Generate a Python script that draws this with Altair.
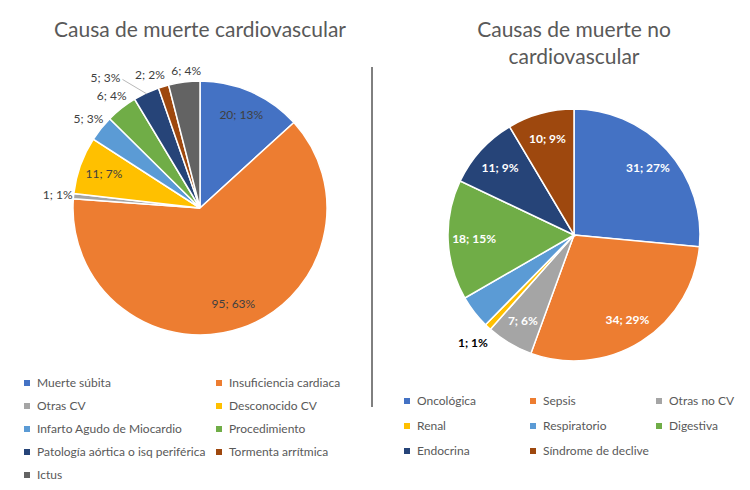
import altair as alt
import pandas as pd

FONT = "Lato"
GREY = "#595959"

# Cardiovascular causes (left pie)
cv_causes = [
    "Muerte súbita", "Insuficiencia cardiaca", "Otras CV", "Desconocido CV",
    "Infarto Agudo de Miocardio", "Procedimiento", "Patología aórtica o isq periférica",
    "Tormenta arrítmica", "Ictus",
]
cv_counts = [20, 95, 1, 11, 5, 6, 5, 2, 6]
cv_pct = [13, 63, 1, 7, 3, 4, 3, 2, 4]
cv_colors = ["#4472C4", "#ED7D31", "#A5A5A5", "#FFC000", "#5B9BD5",
             "#70AD47", "#264478", "#9E480E", "#636363"]

# Non-cardiovascular causes (right pie)
ncv_causes = ["Oncológica", "Sepsis", "Otras no CV", "Renal", "Respiratorio",
              "Digestiva", "Endocrina", "Síndrome de declive"]
ncv_counts = [31, 34, 7, 1, 5, 18, 11, 10]
ncv_pct = [27, 29, 6, 1, 4, 15, 9, 9]
ncv_labelled = [True, True, True, True, False, True, True, True]
ncv_colors = ["#4472C4", "#ED7D31", "#A5A5A5", "#FFC000", "#5B9BD5",
              "#70AD47", "#264478", "#9E480E"]


def make_df(causes, counts, pct, shown=None):
    shown = shown or [True] * len(causes)
    return pd.DataFrame({
        "idx": range(len(causes)),
        "cat": causes,
        "n": counts,
        "pct": pct,
        "label": [f"{c}; {p}%" if s else "" for c, p, s in zip(counts, pct, shown)],
    })


cv = make_df(cv_causes, cv_counts, cv_pct)
ncv = make_df(ncv_causes, ncv_counts, ncv_pct, ncv_labelled)

# pie geometry (pixels inside the view)
L_CX, L_CY, L_R = 192, 200, 127
R_CX, R_CY, R_R = 566, 227, 126


def pie(df, colors, cx, cy, r, legend):
    return (
        alt.Chart(df)
        .mark_arc(outerRadius=r, stroke="white", strokeWidth=1.5)
        .encode(
            theta=alt.Theta("n:Q", stack=True),
            order=alt.Order("idx:Q"),
            color=alt.Color("cat:N", sort=None,
                            scale=alt.Scale(domain=list(df["cat"]), range=colors),
                            legend=legend),
            x=alt.value(cx),
            y=alt.value(cy),
        )
    )


def labels(df, cx, cy, radius, test, color="#404040", weight="normal", dx=0, dy=0):
    return (
        alt.Chart(df)
        .transform_calculate(t=f"({test}) ? datum.label : ''")
        .mark_text(radius=radius, font=FONT, fontSize=12, color=color,
                   fontWeight=weight, dx=dx, dy=dy)
        .encode(
            theta=alt.Theta("n:Q", stack=True),
            order=alt.Order("idx:Q"),
            detail="cat:N",
            text="t:N",
            x=alt.value(cx),
            y=alt.value(cy),
        )
    )


def legend(x, y, cols, col_pad, row_pad):
    return alt.Legend(
        title=None, orient="none", legendX=x, legendY=y, columns=cols,
        direction="horizontal", gridAlign="all", columnPadding=col_pad, rowPadding=row_pad,
        symbolType="square", symbolSize=36, symbolStrokeWidth=0, labelOffset=4,
        labelFont=FONT, labelFontSize=12, labelColor=GREY, labelLimit=300,
    )


# leader line for the "Patología aórtica" label
leader = (
    alt.Chart(cv)
    .transform_stack(stack="n", groupby=[], as_=["s0", "s1"], sort=[alt.SortField("idx")])
    .transform_joinaggregate(total="sum(n)")
    .transform_calculate(a="PI * (datum.s0 + datum.s1) / datum.total")
    .transform_filter("datum.idx == 6")
    .transform_calculate(
        xa=f"{L_CX} + {L_R - 1} * sin(datum.a)",
        ya=f"{L_CY} - {L_R - 1} * cos(datum.a)",
        xb=f"{L_CX} + 143 * sin(datum.a) - 17",
        yb=f"{L_CY} - 143 * cos(datum.a) + 1",
    )
    .mark_rule(color="#A6A6A6", strokeWidth=0.8)
    .encode(
        x=alt.X("xa:Q", scale=None), y=alt.Y("ya:Q", scale=None),
        x2="xb:Q", y2="yb:Q",
    )
)

left = alt.layer(
    pie(cv, cv_colors, L_CX, L_CY, L_R, legend(13, 369, 2, 7, 11)),
    labels(cv, L_CX, L_CY, 102, "datum.pct >= 5"),
    labels(cv, L_CX, L_CY, 143, "datum.pct < 5 && datum.idx < 6"),
    labels(cv, L_CX, L_CY, 143, "datum.idx == 6", dx=-34),
    labels(cv, L_CX, L_CY, 143, "datum.idx == 7", dx=-9, dy=4),
    labels(cv, L_CX, L_CY, 143, "datum.idx == 8", dx=4, dy=5),
    leader,
)

right = alt.layer(
    pie(ncv, ncv_colors, R_CX, R_CY, R_R, legend(393, 387, 3, 4, 13)),
    labels(ncv, R_CX, R_CY, 100, "datum.pct >= 5", color="white", weight="bold"),
    labels(ncv, R_CX, R_CY, 148, "datum.pct < 5", color="black", weight="bold"),
)

title_left = alt.Chart().mark_text(
    font=FONT, fontSize=21, color=GREY, align="center", baseline="alphabetic"
).encode(text=alt.value("Causa de muerte cardiovascular"), x=alt.value(L_CX), y=alt.value(29))

title_right = alt.Chart().mark_text(
    font=FONT, fontSize=21, color=GREY, align="center", baseline="alphabetic", lineHeight=27
).encode(text=alt.value(["Causas de muerte no", "cardiovascular"]), x=alt.value(R_CX), y=alt.value(29))

divider = alt.Chart().mark_rule(color="black", strokeWidth=1).encode(
    x=alt.value(364), y=alt.value(59), y2=alt.value(399)
)

chart = (
    alt.layer(left, right, title_left, title_right, divider)
    .resolve_scale(theta="independent", color="independent")
    .properties(width=734, height=474, autosize="none", padding=0)
    .configure_view(stroke=None)
)

chart.save("out.html", embed_options={"renderer": "svg", "actions": False})
